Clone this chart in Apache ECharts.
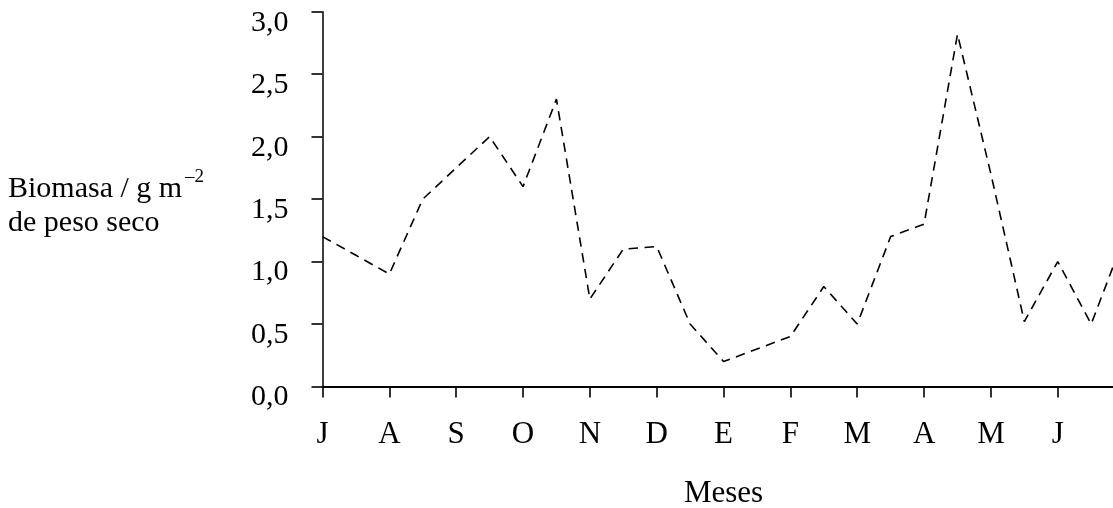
<!DOCTYPE html>
<html>
<head>
<meta charset="utf-8">
<script src="https://cdn.jsdelivr.net/npm/echarts@6/dist/echarts.min.js"></script>
<style>
html,body{margin:0;padding:0;background:#fff;}
#chart{width:1113px;height:508px;}
</style>
</head>
<body>
<div id="chart"></div>
<script>
// Month tick labels (Julio ... Junio)
var monthLabels = ['J','A','S','O','N','D','E','F','M','A','M','J'];
// Sampling positions in months from the first July (half-month steps)
var samplePositions = [0,0.5,1,1.5,2,2.5,3,3.5,4,4.5,5,5.5,6,6.5,7,7.5,8,8.5,9,9.5,10,10.5,11,11.5,12];
// Biomass values, g m^-2 dry weight
var biomass = [1.2,1.05,0.9,1.5,1.75,2.0,1.6,2.3,0.7,1.1,1.12,0.5,0.2,0.3,0.4,0.8,0.5,1.2,1.3,2.82,1.7,0.52,1.0,0.5,1.2];
// Y tick values
var yTicks = [0,0.5,1,1.5,2,2.5,3];

var seriesData = samplePositions.map(function(x,i){ return [x, biomass[i]]; });

var FONT = '"Liberation Serif", "Times New Roman", serif';
var chart = echarts.init(document.getElementById('chart'), null, {renderer:'canvas'});
chart.setOption({
  animation:false,
  backgroundColor:'#fff',
  grid:{left:322.5, top:11.7, width:802.1, height:374.8, containLabel:false, outerBoundsMode:'none'},
  xAxis:{
    type:'value', min:0, max:12, interval:1,
    axisLine:{show:true, lineStyle:{color:'#000', width:2}},
    axisTick:{show:true, length:11, lineStyle:{color:'#000', width:1.6}},
    splitLine:{show:false},
    axisLabel:{
      margin:33, color:'#000', fontFamily:FONT, fontSize:31, lineHeight:30,
      formatter:function(v){ return (v>=0 && v<monthLabels.length && v===Math.round(v)) ? monthLabels[v] : ''; }
    },
    name:'Meses', nameLocation:'middle', nameGap:92,
    nameTextStyle:{color:'#000', fontFamily:FONT, fontSize:31}
  },
  yAxis:{
    type:'value', min:yTicks[0], max:yTicks[yTicks.length-1], interval:0.5,
    axisLine:{show:true, lineStyle:{color:'#000', width:1.5}},
    axisTick:{show:true, length:11, lineStyle:{color:'#000', width:1.6}},
    splitLine:{show:false},
    axisLabel:{
      margin:34, color:'#000', fontFamily:FONT, fontSize:30, lineHeight:22, verticalAlign:'top',
      formatter:function(v){ return v.toFixed(1).replace('.', ','); }
    }
  },
  graphic:[
    {type:'text', x:8, y:189, style:{text:'Biomasa / g m', font:'30px '+FONT, fill:'#000', verticalAlign:'middle', align:'left'}},
    {type:'text', x:185, y:177, style:{text:'–2', font:'19px '+FONT, fill:'#000', verticalAlign:'middle', align:'left'}},
    {type:'text', x:8, y:223, style:{text:'de peso seco', font:'30px '+FONT, fill:'#000', verticalAlign:'middle', align:'left'}}
  ],
  series:[{
    type:'line', data:seriesData, showSymbol:false, symbol:'none', clip:true,
    lineStyle:{color:'#000', width:1.6, type:[9.5,6.5]}
  }]
});
</script>
</body>
</html>
